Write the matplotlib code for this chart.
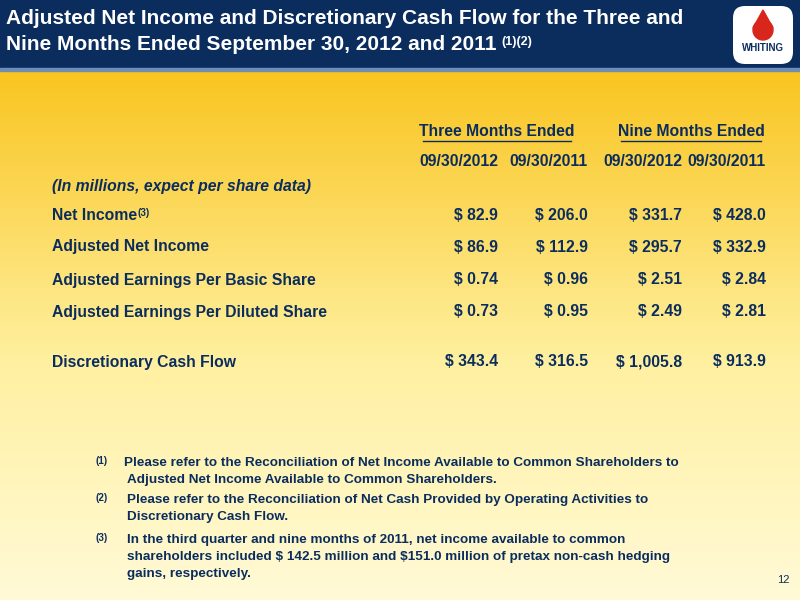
import numpy as np
import matplotlib
matplotlib.use("Agg")
import matplotlib.pyplot as plt
from matplotlib.patches import Rectangle, Circle, Polygon, FancyBboxPatch

plt.rcParams['font.family'] = ['Liberation Sans', 'DejaVu Sans']

title_lines = ["Adjusted Net Income and Discretionary Cash Flow for the Three and",
               "Nine Months Ended September 30, 2012 and 2011"]
group_headers = ["Three Months Ended", "Nine Months Ended"]
col_dates = ["09/30/2012", "09/30/2011", "09/30/2012", "09/30/2011"]
row_labels = ["Net Income", "Adjusted Net Income", "Adjusted Earnings Per Basic Share",
              "Adjusted Earnings Per Diluted Share", "Discretionary Cash Flow"]
row_values = [
    ["$ 82.9", "$ 206.0", "$ 331.7", "$ 428.0"],
    ["$ 86.9", "$ 112.9", "$ 295.7", "$ 332.9"],
    ["$ 0.74", "$ 0.96", "$ 2.51", "$ 2.84"],
    ["$ 0.73", "$ 0.95", "$ 2.49", "$ 2.81"],
    ["$ 343.4", "$ 316.5", "$ 1,005.8", "$ 913.9"],
]
footnotes = [
    ("(1)", ["Please refer to the Reconciliation of Net Income Available to Common Shareholders to",
             "Adjusted Net Income Available to Common Shareholders."]),
    ("(2)", ["Please refer to the Reconciliation of Net Cash Provided by Operating Activities to",
             "Discretionary Cash Flow."]),
    ("(3)", ["In the third quarter and nine months of 2011, net income available to common",
             "shareholders included $ 142.5 million and $151.0 million of pretax non-cash hedging",
             "gains, respectively."]),
]

fig = plt.figure(figsize=(8, 6), dpi=100)
ax = fig.add_axes([0, 0, 1, 1])
ax.set_xlim(0, 800); ax.set_ylim(600, 0); ax.axis('off')

def T(x, y, s, **kw):
    kw.setdefault('parse_math', False)
    return ax.text(x, y, s, **kw)

top = np.array([249, 196, 30]) / 255
mid = np.array([255, 240, 160]) / 255
bot = np.array([255, 250, 215]) / 255
n = 300
cols = np.zeros((n, 1, 3))
for i, v in enumerate(np.linspace(0, 1, n)):
    if v < 0.55:
        f = v / 0.55; c = top * (1 - f) + mid * f
    else:
        f = (v - 0.55) / 0.45; c = mid * (1 - f) + bot * f
    cols[i, 0] = c
ax.imshow(cols, extent=[0, 800, 600, 68], aspect='auto', zorder=0)

ax.add_patch(Rectangle((0, 0), 800, 68, color='#0B2D5E', zorder=1))
ax.add_patch(Rectangle((0, 68), 800, 3, color='#6E8DB5', zorder=1))
T(6, 19, title_lines[0], color='white', fontsize=15, fontweight='bold', va='center', zorder=2)
t2 = T(6, 45, title_lines[1], color='white', fontsize=15, fontweight='bold', va='center', zorder=2)
fig.canvas.draw()
bb = t2.get_window_extent(fig.canvas.get_renderer())
T(bb.x1 + 5, 42, "(1)(2)", color='white', fontsize=9, fontweight='bold', va='center', zorder=2)

ax.add_patch(FancyBboxPatch((733, 6), 60, 58, boxstyle="round,pad=0,rounding_size=12",
                            fc='white', ec='none', zorder=2))
ax.add_patch(Polygon([[763, 10], [753, 28], [773, 28]], closed=True, color='#D9261C', zorder=3))
ax.add_patch(Circle((763, 30), 10, color='#D9261C', zorder=3))
T(763, 48, "WHITING", color='#0B2D5E', fontsize=7, fontweight='bold', ha='center', va='center', zorder=4)

txt = dict(color='#0B2D5E', fontweight='bold', zorder=5)
col_x = [498, 588, 682, 766]
grp_x = [497, 691]
fs = 11.3

for gx, g in zip(grp_x, group_headers):
    T(gx, 132, g, ha='center', va='center', fontsize=fs, **txt)
    w = len(g) * 4.1
    ax.plot([gx - w, gx + w], [141, 141], color='#0B2D5E', lw=1, zorder=5)
for x, d in zip(col_x, col_dates):
    T(x, 161, d, ha='right', va='center', fontsize=fs, **txt)

T(52, 187, "(In millions, expect per share data)", ha='left', va='center',
  fontsize=fs, fontstyle='italic', **txt)

row_y = [215, 247, 280, 312, 362]
for y, lab, vals in zip(row_y, row_labels, row_values):
    T(52, y, lab, ha='left', va='center', fontsize=fs, **txt)
    for x, v in zip(col_x, vals):
        T(x, y, v, ha='right', va='center', fontsize=fs, **txt)
T(137, 213, "(3)", ha='left', va='center', fontsize=7, **txt)

fy = [463, 500, 540]
for y0, (mk, lines) in zip(fy, footnotes):
    T(96, y0 - 2, mk, ha='left', va='center', fontsize=7, **txt)
    for k, ln in enumerate(lines):
        x0 = 124 if (k == 0 and mk == "(1)") else 127
        T(x0, y0 + k * 17, ln, ha='left', va='center', fontsize=9.7, **txt)

T(790, 580, "12", ha='right', va='center', fontsize=8, color='#0B2D5E', zorder=5)

fig.savefig("out.png", dpi=100)
